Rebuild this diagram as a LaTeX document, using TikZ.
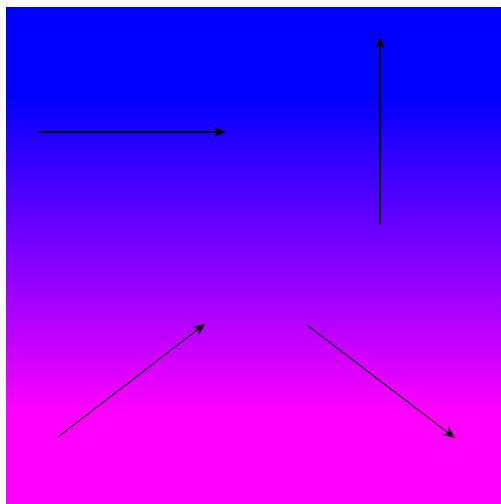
\documentclass[tikz,border=0pt]{standalone}
\usetikzlibrary{arrows.meta}
\pgfdeclareverticalshading{bgshade}{100bp}{color(0bp)=(magenta); color(34bp)=(magenta); color(66bp)=(blue); color(100bp)=(blue)}
\begin{document}
\begin{tikzpicture}[x=1pt,y=-1pt,
  thickarrow/.style={line width=1.5pt,-{Stealth[length=12pt,width=10pt]}},
  thinarrow/.style={line width=0.9pt,-{Stealth[length=12pt,width=10pt]}}]
\useasboundingbox (0,0) rectangle (501,504);
\shade[shading=bgshade] (6,7) rectangle (501,504);
\coordinate (a1) at (38,132);
\coordinate (a2) at (226,132);
\coordinate (b1) at (380,225);
\coordinate (b2) at (380,37);
\coordinate (c1) at (58,437);
\coordinate (c2) at (205,324);
\coordinate (d1) at (307,325);
\coordinate (d2) at (455,438);
\draw[thickarrow] (a1) -- (a2);
\draw[thickarrow] (b1) -- (b2);
\draw[thinarrow] (c1) -- (c2);
\draw[thinarrow] (d1) -- (d2);
\end{tikzpicture}
\end{document}
